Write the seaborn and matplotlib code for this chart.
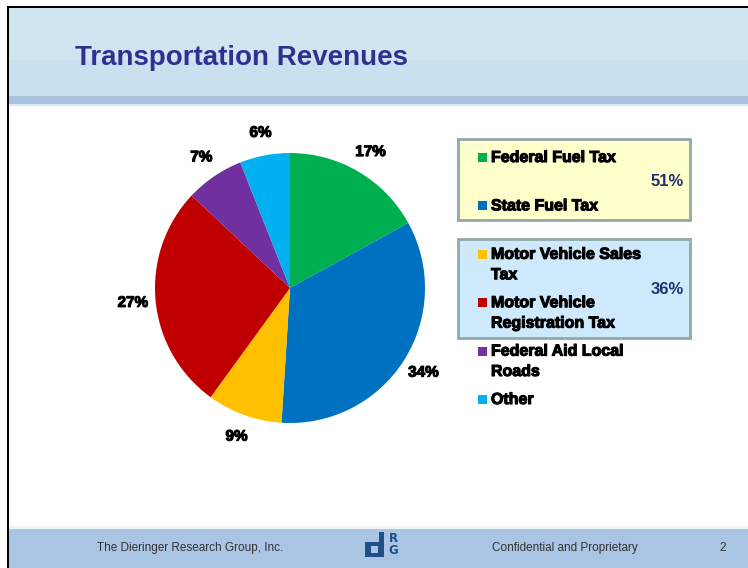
import matplotlib
matplotlib.use("Agg")
import matplotlib.pyplot as plt
import matplotlib.patches as mpatches
import matplotlib.patheffects as pe
import seaborn as sns

# data
categories = ["Federal Fuel Tax", "State Fuel Tax", "Motor Vehicle Sales\nTax",
              "Motor Vehicle\nRegistration Tax", "Federal Aid Local\nRoads", "Other"]
shares = [17, 34, 9, 27, 7, 6]
slice_colors = ["#00b050", "#0070c0", "#ffc000", "#c00000", "#7030a0", "#00b0f0"]
group_totals = ["51%", "36%"]

sns.set_theme(style="white")
plt.rcParams['font.family'] = ['Liberation Sans', 'DejaVu Sans']

W, H = 748, 568
fig = plt.figure(figsize=(W / 100, H / 100), dpi=100)
fig.patch.set_facecolor("white")


def box(x, y, w, h, **kw):
    # rectangle in pixel units, y measured from the top
    r = mpatches.Rectangle((x / W, 1 - (y + h) / H), w / W, h / H,
                           transform=fig.transFigure, **kw)
    fig.add_artist(r)
    return r


def px(x, y):
    return x / W, 1 - y / H


# header band
box(8, 8, W - 8, 90, facecolor="#cfe6f1", edgecolor="none")
box(8, 60, W - 8, 38, facecolor="#c6dfee", edgecolor="none", alpha=0.6)
box(8, 96, W - 8, 9, facecolor="#a8c3e2", edgecolor="none")
box(8, 104, W - 8, 2, facecolor="#dbe7f4", edgecolor="none")
# footer band
box(8, 529, W - 8, 39, facecolor="#a9c5e3", edgecolor="none")
box(8, 526, W - 8, 3, facecolor="#eef3f8", edgecolor="none")
# black frame
box(7, 6, 2, H - 6, facecolor="black", edgecolor="none")
box(7, 6, W - 7, 2, facecolor="black", edgecolor="none")

fig.text(*px(75, 58), "Transportation Revenues", fontsize=20, fontweight="bold",
         color="#2e3192", va="center", ha="left")

# pie
ax = fig.add_axes([155 / W, 1 - 423 / H, 270 / W, 270 / H])
wedges, _, autotexts = ax.pie(shares, colors=slice_colors, startangle=90, counterclock=False,
                              autopct="%1.0f%%", pctdistance=1.17,
                              wedgeprops=dict(linewidth=0))
for t in autotexts:
    t.set_fontsize(11)
    t.set_fontweight("bold")
    t.set_color("black")
    t.set_path_effects([pe.withStroke(linewidth=0.8, foreground="black")])
ax.set_xlim(-1, 1)
ax.set_ylim(-1, 1)
ax.set_aspect("equal")
ax.axis("off")

# legend group boxes
box(458, 139, 232, 81, facecolor="#ffffcc", edgecolor="#90a8a8", linewidth=2)
box(458, 239, 232, 99, facecolor="#cde9fb", edgecolor="#90a8a8", linewidth=2)
fig.text(*px(684, 182), group_totals[0], fontsize=12, fontweight="bold",
         color="#1f3070", ha="right", va="center")
fig.text(*px(684, 290), group_totals[1], fontsize=12, fontweight="bold",
         color="#1f3070", ha="right", va="center")

# legend entries, evenly spaced like the slide
for i, (lab, col) in enumerate(zip(categories, slice_colors)):
    y = 157 + 48.4 * i
    box(478, y - 4, 9, 9, facecolor=col, edgecolor="none")
    fig.text(*px(491, y - 7), lab, fontsize=11.5, fontweight="bold", color="black",
             ha="left", va="top", linespacing=1.45,
             path_effects=[pe.withStroke(linewidth=0.8, foreground="black")])

# footer
fig.text(*px(97, 548), "The Dieringer Research Group, Inc.", fontsize=8.5,
         color="#333333", ha="left", va="center")
fig.text(*px(492, 548), "Confidential and Proprietary", fontsize=8.5,
         color="#333333", ha="left", va="center")
fig.text(*px(719, 548), "2", fontsize=8.5, color="#333333", ha="left", va="center")
# logo
logo = "#1f4f86"
box(365, 542, 19, 15, facecolor=logo, edgecolor="none")
box(379, 532, 5, 25, facecolor=logo, edgecolor="none")
box(371, 546, 7, 7, facecolor="#a9c5e3", edgecolor="none")
fig.text(*px(393, 538), "R", fontsize=8.5, color=logo, ha="center", va="center",
         family="DejaVu Sans", fontweight="bold")
fig.text(*px(393, 551), "G", fontsize=8.5, color=logo, ha="center", va="center",
         family="DejaVu Sans", fontweight="bold")

fig.savefig("out.png", dpi=100)
